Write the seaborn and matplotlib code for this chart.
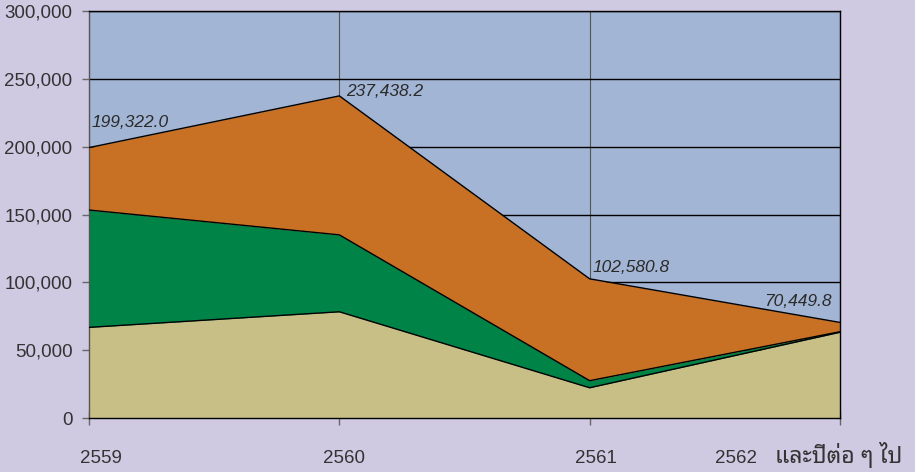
import numpy as np
import pandas as pd
import matplotlib
matplotlib.use("Agg")
from matplotlib import pyplot as plt
from matplotlib.ticker import FuncFormatter
import seaborn as sns

years = ["2559", "2560", "2561", "2562 และปีต่อ ๆ ไป"]
tan_vals = [66800.0, 78300.0, 22300.0, 63200.0]
green_vals = [86500.0, 56700.0, 5200.0, 400.0]
orange_vals = [46022.0, 102438.2, 75080.8, 6849.8]

# value label offsets (points) and alignment
label_offsets = [(2, 13), (5, -2), (2, 3), (-6, 10)]
label_ha = ["left", "left", "left", "right"]
# x label offsets (pixels) and alignment
xlab_dx = [-9, 5, 6, -125]
xlab_ha = ["left", "center", "center", "left"]

bg = "#d0c9e2"
plot_bg = "#a3b5d5"
colors = ["#c8bf86", "#008347", "#c87024"]

sns.set_style("white")
plt.rcParams["font.family"] = ["Liberation Sans", "Noto Sans Thai Looped", "DejaVu Sans"]

df = pd.DataFrame({"x": np.arange(len(years)), "tan": tan_vals,
                   "green": green_vals, "orange": orange_vals})
df["c1"] = df["tan"]
df["c2"] = df["c1"] + df["green"]
df["c3"] = df["c2"] + df["orange"]

fig = plt.figure(figsize=(9.15, 4.72), dpi=100, facecolor=bg)
ax = fig.add_axes([0.0973, 0.1144, 0.8207, 0.8623])
ax.set_facecolor(plot_bg)

lower = np.zeros(len(df))
for col, c in zip(["c1", "c2", "c3"], colors):
    ax.fill_between(df["x"], lower, df[col], color=c, zorder=2, linewidth=0)
    sns.lineplot(data=df, x="x", y=col, color="black", linewidth=1.0, ax=ax, zorder=3)
    lower = df[col].values

for i, total in enumerate(df["c3"]):
    ax.annotate(f"{total:,.1f}", xy=(df["x"][i], total), xytext=label_offsets[i],
                textcoords="offset points", ha=label_ha[i], va="bottom",
                fontsize=12.5, style="italic", color="#2a2a2a", zorder=4)

ax.set_xlim(0, 3)
ax.set_ylim(0, 300000)
ax.set_yticks(np.arange(0, 300001, 50000))
ax.yaxis.set_major_formatter(FuncFormatter(lambda v, p: f"{v:,.0f}"))
ax.set_xticks(df["x"])
ax.set_xticklabels([])
ax.set_xlabel("")
ax.set_ylabel("")

# x labels drawn as text so each can be nudged like the original;
# the Thai part of the last one is set larger, as in the source
for i, lab in enumerate(years):
    year, _, rest = lab.partition(" ")
    ax.annotate(year, xy=(df["x"][i], 0), xycoords=("data", "axes fraction"),
                xytext=(xlab_dx[i], -45), textcoords="offset pixels",
                ha=xlab_ha[i], va="baseline", fontsize=13.5, color="#333333",
                annotation_clip=False)
    if rest:
        ax.annotate(rest, xy=(df["x"][i], 0), xycoords=("data", "axes fraction"),
                    xytext=(62, -45), textcoords="offset pixels",
                    ha="right", va="baseline", fontsize=16.5, color="#333333",
                    family=["Noto Sans Thai Looped", "DejaVu Sans"],
                    annotation_clip=False)

ax.grid(axis="y", color="black", linewidth=1.0, zorder=1)
ax.grid(axis="x", color="#555555", linewidth=0.8, zorder=1)
ax.set_axisbelow(True)

for s in ["top", "right", "bottom"]:
    ax.spines[s].set_color("black")
    ax.spines[s].set_linewidth(1.0)
ax.spines["left"].set_color("#555555")
ax.spines["left"].set_linewidth(1.0)

ax.tick_params(axis="y", left=True, length=5, width=1, color="#666666",
               labelsize=13.5, labelcolor="#333333", pad=7)
ax.tick_params(axis="x", bottom=True, direction="inout", length=10, width=1,
               color="#666666")

fig.savefig("out.png", dpi=100, facecolor=bg)
